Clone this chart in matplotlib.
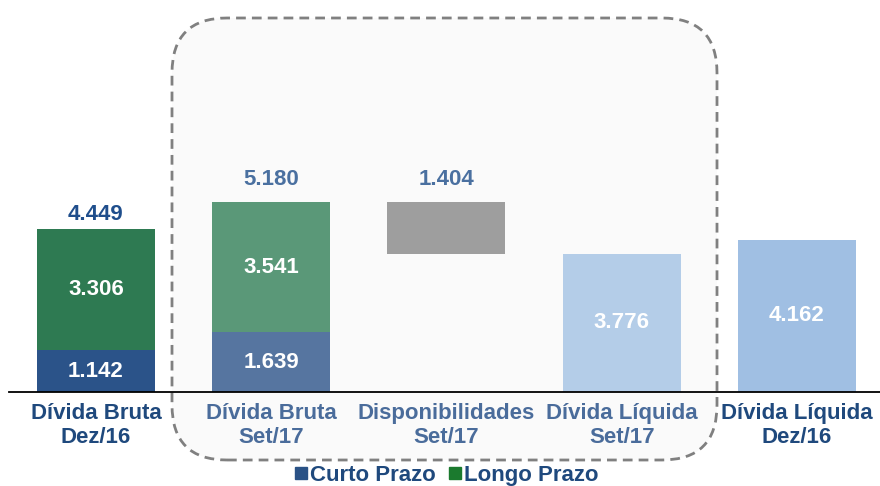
import matplotlib.pyplot as plt
from matplotlib.patches import FancyBboxPatch
from matplotlib.lines import Line2D
from matplotlib.transforms import IdentityTransform

plt.rcParams['font.family'] = ['Liberation Sans', 'DejaVu Sans']
plt.rcParams['font.weight'] = 'bold'

# Dados (R$ milhões)
categories = ['Dívida Bruta\nDez/16', 'Dívida Bruta\nSet/17', 'Disponibilidades\nSet/17',
              'Dívida Líquida\nSet/17', 'Dívida Líquida\nDez/16']
curto_prazo = [1142, 1639]
longo_prazo = [3306, 3541]
bruta_total = [4449, 5180]
disponibilidades = 1404
liquida_set17 = 3776
liquida_dez16 = 4162


def fmt(v):
    return f'{v:,}'.replace(',', '.')


dark_txt = '#1f497d'
light_txt = '#4a6c9b'

fig = plt.figure(figsize=(8.8, 4.86), dpi=100)
ax = fig.add_axes([9 / 880, 94 / 486, 871 / 880, 392 / 486])
ax.patch.set_alpha(0)

# dashed rounded box highlighting Set/17 (pixel coords)
box = FancyBboxPatch((172, 26), 545, 442, boxstyle='round,pad=0,rounding_size=55',
                     transform=IdentityTransform(), facecolor='#fafafa', edgecolor='#808080',
                     linestyle=(0, (3.5, 2.2)), linewidth=2, zorder=-1)
fig.patches.append(box)

x = list(range(len(categories)))
w = 0.673

# Dívida Bruta (stacked)
ax.bar(x[0], curto_prazo[0], w, color='#2b5389')
ax.bar(x[0], longo_prazo[0], w, bottom=curto_prazo[0], color='#2e7a52')
ax.bar(x[1], curto_prazo[1], w, color='#5675a0')
ax.bar(x[1], longo_prazo[1], w, bottom=curto_prazo[1], color='#5a9878')
# Disponibilidades (floating)
ax.bar(x[2], disponibilidades, w, bottom=bruta_total[1] - disponibilidades, color='#9e9e9e')
# Dívida Líquida
ax.bar(x[3], liquida_set17, w, color='#b4cde8')
ax.bar(x[4], liquida_dez16, w, color='#a0bfe3')

inner = dict(ha='center', va='center', color='white', fontsize=16, fontweight='bold')
for i in range(2):
    ax.text(x[i], curto_prazo[i] / 2, fmt(curto_prazo[i]), **inner)
    ax.text(x[i], curto_prazo[i] + longo_prazo[i] / 2, fmt(longo_prazo[i]), **inner)
ax.text(x[3], liquida_set17 / 2, fmt(liquida_set17), **inner)
ax.text(x[4], liquida_dez16 / 2, fmt(liquida_dez16), **inner)

ax.annotate(fmt(bruta_total[0]), (x[0], bruta_total[0]), xytext=(0, 3), textcoords='offset points',
            ha='center', va='bottom', color='#1f4e8c', fontsize=16, fontweight='bold')
ax.annotate(fmt(bruta_total[1]), (x[1], bruta_total[1]), xytext=(0, 9), textcoords='offset points',
            ha='center', va='bottom', color='#4a70a0', fontsize=16, fontweight='bold')
ax.annotate(fmt(disponibilidades), (x[2], bruta_total[1]), xytext=(0, 9), textcoords='offset points',
            ha='center', va='bottom', color='#4a70a0', fontsize=16, fontweight='bold')

ax.set_xlim(-0.496, 4.474)
ax.set_ylim(0, 10710)
ax.set_xticks(x)
ax.set_xticklabels(categories, fontsize=16, fontweight='bold', linespacing=1.2)
for lbl, c in zip(ax.get_xticklabels(), [dark_txt, light_txt, light_txt, light_txt, dark_txt]):
    lbl.set_color(c)
ax.tick_params(axis='x', length=0, pad=8)
ax.set_yticks([])
for s in ['top', 'right', 'left']:
    ax.spines[s].set_visible(False)
ax.spines['bottom'].set_linewidth(1.3)
ax.spines['bottom'].set_color('black')

handles = [Line2D([], [], marker='s', linestyle='', markersize=9, color='#2a5286'),
           Line2D([], [], marker='s', linestyle='', markersize=9, color='#1b7a2e')]
fig.legend(handles, ['Curto Prazo', 'Longo Prazo'], loc='center', bbox_to_anchor=(446 / 880, 1 - 475 / 486),
           ncol=2, frameon=False, handletextpad=0.05, columnspacing=0.5, handlelength=0.7,
           prop={'size': 16, 'weight': 'bold'}, labelcolor=dark_txt)

fig.savefig('out.png', dpi=100)
